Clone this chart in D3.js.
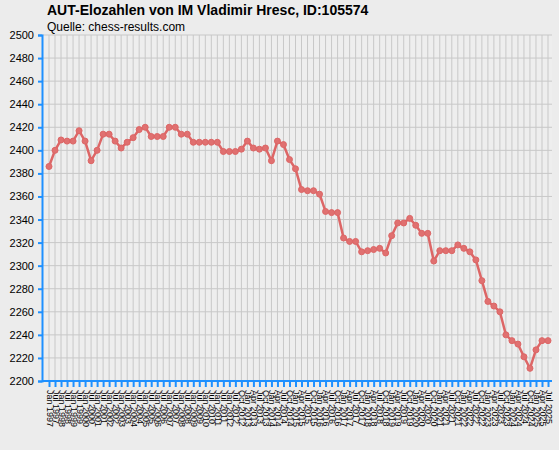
<!DOCTYPE html>
<html><head><meta charset="utf-8">
<script src="https://cdn.jsdelivr.net/npm/d3@7"></script>
<style>body{margin:0;background:#ececec;}svg{display:block;font-family:"Liberation Sans",Arial,sans-serif;}</style>
</head><body><svg id="c" width="559" height="450"></svg>
<script>
const labels = [
"Jan 1997","Jul 1997","Jan 1998","Jul 1998","Jan 1999","Jul 1999","Jan 2000","Jul 2000","Jan 2001","Jul 2001",
"Jan 2002","Jul 2002","Jan 2003","Jul 2003","Jan 2004","Jul 2004","Jan 2005","Jul 2005","Jan 2006","Jul 2006",
"Jan 2007","Jul 2007","Jan 2008","Jul 2008","Jan 2009","Jul 2009","Jan 2010","Jul 2010","Jan 2011","Jul 2011",
"Jan 2012","Jul 2012",
"Oct 2012","Jan 2013","Apr 2013","Jul 2013","Oct 2013","Jan 2014","Apr 2014","Jul 2014","Oct 2014","Jan 2015",
"Apr 2015","Jul 2015","Oct 2015","Jan 2016","Apr 2016","Jul 2016","Oct 2016","Jan 2017","Apr 2017","Jul 2017",
"Oct 2017","Jan 2018","Apr 2018","Jul 2018","Oct 2018","Jan 2019","Apr 2019","Jul 2019","Oct 2019","Jan 2020",
"Apr 2020","Jul 2020","Oct 2020","Jan 2021","Apr 2021","Jul 2021","Oct 2021","Jan 2022","Apr 2022","Jul 2022",
"Oct 2022","Jan 2023","Apr 2023","Jul 2023","Oct 2023","Jan 2024","Apr 2024","Jul 2024","Oct 2024","Jan 2025",
"Apr 2025","Jul 2025"];
const elo = [2386,2400,2409,2408,2408,2417,2408,2391,2400,2414,
2414,2408,2402,2407,2411,2418,2420,2412,2412,2412,
2420,2420,2414,2414,2407,2407,2407,2407,2407,2399,
2399,2399,2401,2408,2402,2401,2402,2391,2408,2405,
2392,2384,2366,2365,2365,2362,2347,2346,2346,2324,
2321,2321,2312,2313,2314,2315,2311,2326,2337,2337,
2341,2335,2328,2328,2304,2313,2313,2313,2318,2315,
2312,2305,2287,2269,2265,2260,2240,2235,2232,2221,
2211,2227,2235,2235];
const yTicks = d3.range(2200, 2501, 20);

const svg = d3.select("#c");
const L=42, R=552, T=35, B=381;
const x = d3.scalePoint().domain(labels).range([49,548]);
const y = d3.scaleLinear().domain([2200,2500]).range([B,T]);

svg.append("rect").attr("x",L).attr("y",T).attr("width",R-L).attr("height",B-T).attr("fill","#eeeeee");
const g = svg.append("g");
g.selectAll(".vg").data(labels).join("line").attr("x1",d=>x(d)).attr("x2",d=>x(d)).attr("y1",T).attr("y2",B).attr("stroke","#c8c8c8").attr("stroke-width",1);
g.selectAll(".hg").data(yTicks).join("line").attr("x1",L).attr("x2",R).attr("y1",d=>y(d)).attr("y2",d=>y(d)).attr("stroke","#c8c8c8").attr("stroke-width",1);

const ya = svg.append("g").attr("transform",`translate(${L},0)`).call(d3.axisLeft(y).tickValues(yTicks).tickSize(4).tickFormat(d3.format("d")));
ya.select(".domain").attr("stroke","#1e90ff").attr("stroke-width",2);
ya.selectAll(".tick line").attr("stroke","#1e90ff").attr("stroke-width",2);
ya.selectAll("text").attr("font-size",11).attr("fill","#000").attr("dx",-1);

const xa = svg.append("g").attr("transform",`translate(0,${B})`).call(d3.axisBottom(x).tickSize(6));
xa.select(".domain").attr("stroke","#1e90ff").attr("stroke-width",2).attr("d",`M${L},0H${R}`);
xa.selectAll(".tick line").attr("stroke","#1e90ff").attr("stroke-width",2);
xa.selectAll("text").attr("font-size",9).attr("fill","#000").attr("transform","rotate(90)").attr("text-anchor","start").attr("x",9).attr("y",0).attr("dy","0.32em");

const line = d3.line().x((d,i)=>x(labels[i])).y(d=>y(d));
svg.append("path").datum(elo).attr("d",line).attr("fill","none").attr("stroke","#dd6666").attr("stroke-width",2.5);
svg.selectAll(".pt").data(elo).join("circle").attr("cx",(d,i)=>x(labels[i])).attr("cy",d=>y(d)).attr("r",3).attr("fill","#e07070").attr("stroke","#dd6666");

svg.append("text").attr("x",47).attr("y",15).attr("font-size",14).attr("font-weight","bold").text("AUT-Elozahlen von IM Vladimir Hresc, ID:105574");
svg.append("text").attr("x",47).attr("y",31).attr("font-size",12).text("Quelle: chess-results.com");
</script></body></html>
